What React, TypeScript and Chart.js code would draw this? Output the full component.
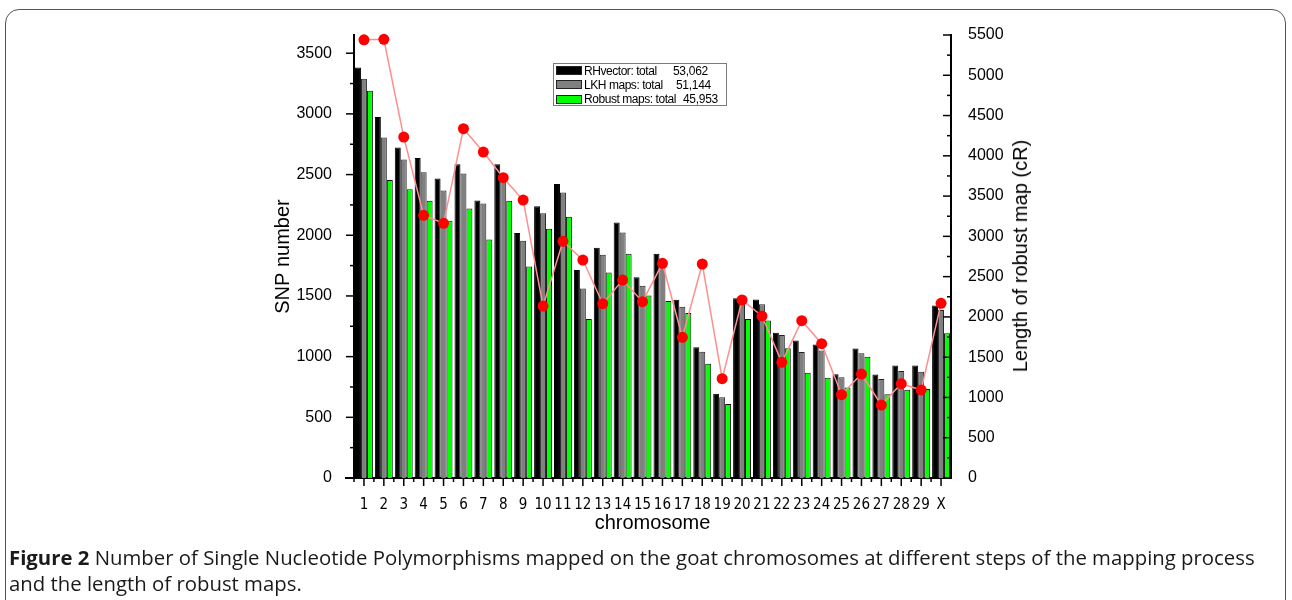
import React, { useEffect, useRef } from "react";
import { Chart, registerables } from "chart.js";

Chart.register(...registerables);

const chromosomes = ["1","2","3","4","5","6","7","8","9","10","11","12","13","14","15","16","17","18","19","20","21","22","23","24","25","26","27","28","29","X"];

const rhVector = [3383,2974,2723,2636,2468,2586,2286,2586,2018,2240,2422,1713,1898,2105,1655,1847,1468,1078,695,1482,1470,1196,1132,1099,855,1066,852,926,926,1421];
const lkhMaps = [3290,2806,2624,2520,2369,2509,2262,2512,1954,2182,2352,1561,1840,2023,1583,1770,1412,1041,665,1468,1432,1179,1039,1050,830,1028,816,882,876,1385];
const robustMaps = [3191,2455,2380,2284,2119,2220,1965,2284,1742,2053,2152,1311,1694,1847,1503,1459,1360,942,610,1311,1297,1069,868,827,745,1000,690,728,734,1193];
const robustLength = [5440,5446,4233,3261,3162,4337,4047,3728,3451,2135,2939,2706,2164,2458,2189,2665,1747,2657,1233,2210,2011,1436,1953,1667,1034,1291,906,1171,1093,2169];

const leftTicks = [0, 500, 1000, 1500, 2000, 2500, 3000, 3500];
const rightTicks = [0, 500, 1000, 1500, 2000, 2500, 3000, 3500, 4000, 4500, 5000, 5500];

const legendItems = [
  { label: "RHvector: total", value: "53,062", color: "#000000" },
  { label: "LKH maps: total", value: "51,144", color: "#808080" },
  { label: "Robust maps: total", value: "45,953", color: "#00ff00" },
];
const legendValueX = [673, 676, 683];

const FONT = "'Liberation Sans', Arial, sans-serif";
const NARROW = "'Liberation Sans Narrow', 'Arial Narrow', 'DejaVu Sans Condensed', sans-serif";

const axisTicksPlugin = {
  id: "axisTicks",
  afterDraw(chart: any) {
    const { ctx, chartArea, scales } = chart;
    ctx.save();
    ctx.strokeStyle = "#000";
    ctx.lineWidth = 1.5;
    const seg = (x1: number, y1: number, x2: number, y2: number) => {
      ctx.beginPath();
      ctx.moveTo(x1, y1);
      ctx.lineTo(x2, y2);
      ctx.stroke();
    };
    const yl = scales.y;
    for (let v = 0; v <= yl.max; v += 250) {
      const py = yl.getPixelForValue(v);
      const len = v % 500 === 0 ? 8 : 4;
      seg(chartArea.left - len, py, chartArea.left, py);
    }
    const yr = scales.y1;
    for (let v = 0; v <= yr.max; v += 250) {
      const py = yr.getPixelForValue(v);
      const len = v % 500 === 0 ? 8 : 4;
      seg(chartArea.right - len, py, chartArea.right, py);
    }
    const xs = scales.x;
    const n = chromosomes.length;
    const w = (chartArea.right - chartArea.left) / n;
    for (let i = 0; i < n; i++) {
      const px = xs.getPixelForValue(i);
      seg(px, chartArea.bottom, px, chartArea.bottom + 8);
      seg(px - w / 2, chartArea.bottom, px - w / 2, chartArea.bottom + 4);
    }
    ctx.lineWidth = 2;
    seg(chartArea.left - 9, chartArea.bottom, chartArea.left, chartArea.bottom);
    ctx.restore();
  },
};

export default function App() {
  const ref = useRef<HTMLCanvasElement | null>(null);

  useEffect(() => {
    if (!ref.current) return;
    const chart = new Chart(ref.current, {
      type: "bar",
      data: {
        labels: chromosomes,
        datasets: [
          {
            type: "line",
            label: "Length of robust map",
            data: robustLength,
            yAxisID: "y1",
            borderColor: "#ff8f8f",
            borderWidth: 1.5,
            pointRadius: 5.5,
            pointBackgroundColor: "#ff0000",
            pointBorderColor: "#ff0000",
            pointBorderWidth: 0,
            tension: 0,
            order: 0,
            clip: false,
          } as any,
          {
            type: "bar",
            label: "RHvector",
            data: rhVector,
            yAxisID: "y",
            backgroundColor: "#000000",
            borderColor: "#000000",
            borderWidth: 1,
            order: 1,
          },
          {
            type: "bar",
            label: "LKH maps",
            data: lkhMaps,
            yAxisID: "y",
            backgroundColor: "#808080",
            borderColor: "#222222",
            borderWidth: 1,
            order: 1,
          },
          {
            type: "bar",
            label: "Robust maps",
            data: robustMaps,
            yAxisID: "y",
            backgroundColor: "#00ff00",
            borderColor: "#111111",
            borderWidth: 1,
            order: 1,
          },
        ],
      },
      options: {
        responsive: false,
        animation: false,
        layout: { padding: { top: 35, left: 0, right: 0, bottom: 0 } },
        datasets: { bar: { categoryPercentage: 0.9, barPercentage: 1.0 } },
        plugins: { legend: { display: false }, tooltip: { enabled: false } },
        scales: {
          x: {
            type: "category",
            offset: true,
            grid: { display: false },
            border: { display: true, color: "#000", width: 2 },
            ticks: {
              autoSkip: false,
              maxRotation: 0,
              minRotation: 0,
              padding: 10,
              color: "#000",
              font: { family: NARROW, size: 15 },
            },
            title: {
              display: true,
              text: "chromosome",
              color: "#000",
              font: { family: FONT, size: 20 },
              padding: { top: 0, bottom: 10 },
            },
            afterFit: (s: any) => {
              s.height = 67;
            },
          },
          y: {
            position: "left",
            min: 0,
            max: 3650,
            grid: { display: false },
            border: { display: true, color: "#000", width: 2 },
            afterBuildTicks: (s: any) => {
              s.ticks = leftTicks.map((v) => ({ value: v }));
            },
            ticks: {
              autoSkip: false,
              padding: 14,
              color: "#000",
              font: { family: FONT, size: 16 },
              callback: (v: any) => String(v),
            },
            title: {
              display: true,
              text: "SNP number",
              color: "#000",
              font: { family: FONT, size: 20 },
              padding: { top: 11, bottom: 0 },
            },
            afterFit: (s: any) => {
              s.width = 94;
            },
          },
          y1: {
            position: "right",
            min: 0,
            max: 5500,
            grid: { display: false },
            border: { display: true, color: "#000", width: 2 },
            afterBuildTicks: (s: any) => {
              s.ticks = rightTicks.map((v) => ({ value: v }));
            },
            ticks: {
              autoSkip: false,
              padding: 9,
              color: "#000",
              font: { family: FONT, size: 16 },
              callback: (v: any) => String(v),
            },
            afterFit: (s: any) => {
              s.width = 109;
            },
          },
        },
      },
      plugins: [axisTicksPlugin],
    });
    return () => chart.destroy();
  }, []);

  return (
    <div style={{ position: "absolute", left: 0, top: 0, width: 1292, height: 600, overflow: "hidden", background: "#fff" }}>
      <div
        style={{
          position: "absolute",
          left: 5,
          top: 9,
          width: 1281,
          height: 640,
          border: "1.5px solid #555",
          borderRadius: 14,
          boxSizing: "border-box",
        }}
      />
      <canvas
        ref={ref}
        width={800}
        height={545}
        style={{ position: "absolute", left: 260, top: 0, width: 800, height: 545 }}
      />
      <div
        style={{
          position: "absolute",
          left: 1020,
          top: 256,
          transform: "translate(-50%, -50%) rotate(-90deg)",
          whiteSpace: "nowrap",
          fontFamily: FONT,
          fontSize: 20,
          color: "#000",
          lineHeight: "24px",
        }}
      >
        Length of robust map (cR)
      </div>
      <div
        style={{
          position: "absolute",
          left: 553,
          top: 63,
          width: 174,
          height: 43,
          border: "1.5px solid #7a7a7a",
          boxSizing: "border-box",
          background: "#fff",
        }}
      />
      {legendItems.map((it, i) => {
        const cy = 70.5 + i * 14.3;
        return (
          <React.Fragment key={it.label}>
            <div
              style={{
                position: "absolute",
                left: 556,
                top: cy - 4.5,
                width: 26,
                height: 9,
                background: it.color,
                border: "1px solid #222",
                boxSizing: "border-box",
              }}
            />
            <div
              style={{
                position: "absolute",
                left: 584,
                top: cy - 8,
                height: 16,
                lineHeight: "16px",
                fontFamily: FONT,
                fontSize: 12,
                color: "#000",
                whiteSpace: "nowrap",
                letterSpacing: -0.45,
              }}
            >
              {it.label}
            </div>
            <div
              style={{
                position: "absolute",
                left: legendValueX[i],
                top: cy - 8,
                height: 16,
                lineHeight: "16px",
                fontFamily: FONT,
                fontSize: 12,
                color: "#000",
                whiteSpace: "nowrap",
                letterSpacing: -0.3,
              }}
            >
              {it.value}
            </div>
          </React.Fragment>
        );
      })}
      <div
        style={{
          position: "absolute",
          left: 9,
          top: 544,
          fontFamily: "'Open Sans', 'Noto Sans', sans-serif",
          fontSize: 20.35,
          lineHeight: "26px",
          color: "#1a1a1a",
          whiteSpace: "nowrap",
        }}
      >
        <b>Figure 2</b> Number of Single Nucleotide Polymorphisms mapped on the goat chromosomes at different steps of the mapping process
        <br />
        and the length of robust maps.
      </div>
    </div>
  );
}
